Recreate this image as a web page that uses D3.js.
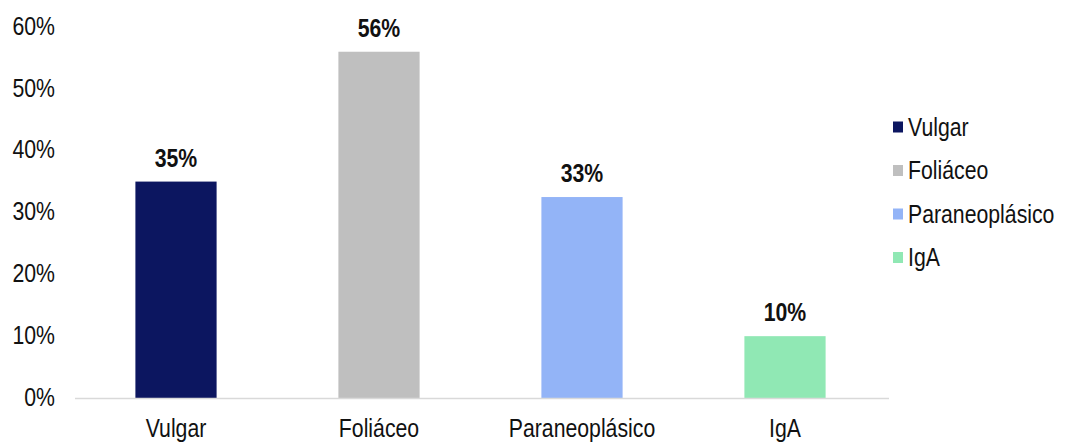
<!DOCTYPE html>
<html><head><meta charset="utf-8">
<script src="https://cdn.jsdelivr.net/npm/d3@7"></script>
<style>
body{margin:0;background:#fff;}
text{font-family:"Liberation Sans Narrow","Liberation Sans",Arial,sans-serif;}
</style></head>
<body><svg id="c" width="1065" height="444"></svg>
<script>
const categories = ["Vulgar","Foliáceo","Paraneoplásico","IgA"];
const values = [0.35, 0.56, 0.325, 0.10];
const valueLabels = ["35%","56%","33%","10%"];
const colors = ["#0c1660","#bfbfbf","#93b4f7","#90e8b4"];
const yTicks = [0,0.1,0.2,0.3,0.4,0.5,0.6];

const SX = 0.85; // condensed look
const svg = d3.select("#c");
const x = d3.scaleBand().domain(categories).range([74.5, 886.5]).paddingInner(0.6).paddingOuter(0.3);
const y = d3.scaleLinear().domain([0,0.6]).range([398,27]);

// y tick labels
svg.append("g").selectAll("text").data(yTicks).join("text")
  .attr("transform",d=>`translate(55,${y(d)-1}) scale(${SX},1)`)
  .attr("dy","0.35em")
  .attr("text-anchor","end").attr("font-size",25).attr("fill","#111")
  .text(d=>d3.format(".0%")(d));

// bars
svg.append("g").selectAll("rect").data(categories).join("rect")
  .attr("x",d=>x(d)).attr("width",x.bandwidth())
  .attr("y",(d,i)=>y(values[i])).attr("height",(d,i)=>y(0)-y(values[i]))
  .attr("fill",(d,i)=>colors[i]);

// baseline
svg.append("line").attr("x1",75).attr("x2",889).attr("y1",y(0)+0.5).attr("y2",y(0)+0.5)
  .attr("stroke","#d9d9d9").attr("stroke-width",1.5);

// value labels
svg.append("g").selectAll("text").data(categories).join("text")
  .attr("transform",(d,i)=>`translate(${x(d)+x.bandwidth()/2},${y(values[i])-15}) scale(${SX},1)`)
  .attr("text-anchor","middle").attr("font-size",25).attr("font-weight","bold").attr("fill","#111")
  .text((d,i)=>valueLabels[i]);

// x labels
svg.append("g").selectAll("text").data(categories).join("text")
  .attr("transform",d=>`translate(${x(d)+x.bandwidth()/2},437) scale(${SX},1)`)
  .attr("text-anchor","middle").attr("font-size",25).attr("fill","#111")
  .text(d=>d);

// legend
const lg = svg.append("g").attr("transform","translate(893,127)");
const rows = lg.selectAll("g").data(categories).join("g").attr("transform",(d,i)=>`translate(0,${i*43.5})`);
rows.append("rect").attr("x",0).attr("y",-5.5).attr("width",10).attr("height",11).attr("fill",(d,i)=>colors[i]);
rows.append("text").attr("transform",`translate(15,0) scale(${SX},1)`).attr("dy","0.35em")
  .attr("font-size",25).attr("fill","#111").text(d=>d);
</script></body></html>
